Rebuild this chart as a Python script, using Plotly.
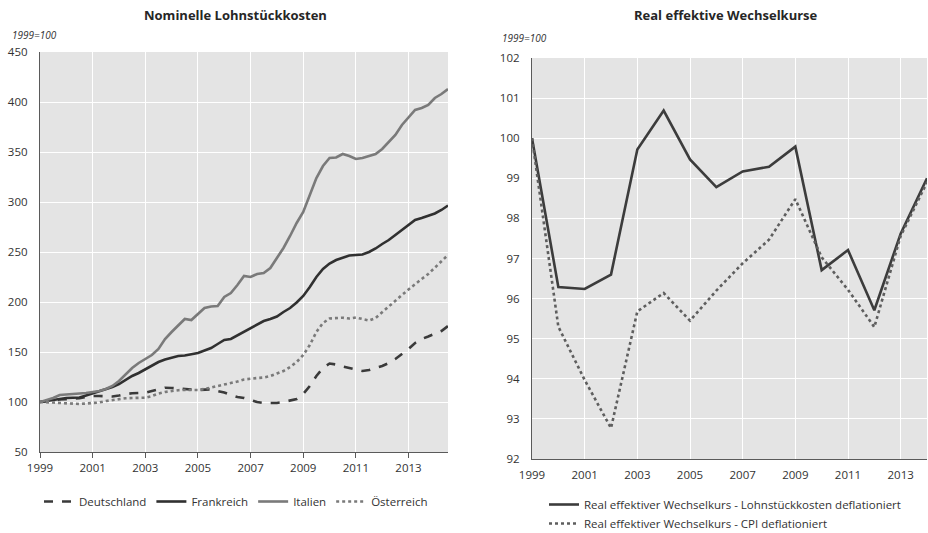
import plotly.graph_objects as go

# ---- Nominelle Lohnstückkosten (quarterly, 1999Q1 .. 2014Q3, 1999=100)
quarters = [1999 + i * 0.25 for i in range(63)]

deutschland = [100, 101, 102, 102.5, 102.8, 103, 103.7, 105, 106, 106, 106, 105.5,
               106.5, 108, 108.7, 109, 109.3, 111, 113, 114.3, 114, 113.7, 113, 112.5,
               112, 112.5, 112.7, 111, 109.5, 107, 105, 104, 102, 100, 99, 98.7,
               99, 100, 101.5, 103, 108, 116, 126, 134, 138.5, 137.5, 135.5, 134,
               132.5, 131, 132, 134, 136, 139, 143, 148, 153, 159, 163, 165.5,
               168, 171, 176]
frankreich = [100, 101, 102.5, 103.5, 104, 104.2, 104.5, 106.5, 108.5, 110.5, 112.5, 115,
              118, 122, 126, 129, 132.5, 136, 140, 142.5, 144.5, 146, 146.5, 147.5,
              149, 151.5, 154, 158, 162, 163, 166.5, 170, 173.5, 177, 181, 183,
              185.5, 190, 194, 199.5, 206, 215, 225, 233, 238.5, 242, 244.5, 246.5,
              247, 247.5, 250, 253.5, 258, 262, 267, 272, 277, 282, 284, 286,
              288.5, 292, 296.5]
italien = [100, 102, 104, 107, 107.5, 107.7, 108, 109, 110, 111, 113, 116,
           121, 128, 134, 139, 143, 147, 153, 163, 170, 176, 183, 182,
           188, 194, 195.5, 196, 205, 209, 217, 226, 225, 228, 229, 234,
           244, 254, 266, 279, 290, 307, 324, 336, 344, 344.5, 348, 346,
           343, 344, 346, 348, 353, 360, 367, 377, 384, 392, 394, 397,
           404, 408, 413]
oesterreich = [100, 100, 99.5, 99, 98.5, 98, 98, 98.5, 98.7, 99.5, 101, 102,
               103, 103.7, 104, 104.2, 104.3, 106, 108.5, 110, 111, 111.8, 112, 112,
               112, 113, 114.5, 116, 117, 118.5, 120.5, 122.5, 123.5, 124, 124.5, 126,
               128.5, 131, 135, 140, 147, 157, 170, 179, 183.5, 184, 184.3, 183.5,
               184.5, 183, 181.5, 184, 190, 196, 202, 207, 212.5, 218, 223, 228,
               234, 240, 247]

# ---- Real effektive Wechselkurse (annual, 1999=100)
years = list(range(1999, 2015))
reer_lsk = [100, 96.29, 96.24, 96.6, 99.72, 100.69, 99.47, 98.78, 99.17, 99.29,
            99.79, 96.71, 97.21, 95.71, 97.62, 99.0]
reer_cpi = [100, 95.3, 93.97, 92.77, 95.68, 96.14, 95.45, 96.2, 96.88, 97.47,
            98.48, 97.03, 96.22, 95.29, 97.56, 98.9]

tick_years = list(range(1999, 2014, 2))
tick_text = [str(y) for y in tick_years]

FONT = "Open Sans"
TXT = "#333333"
W, H = 928, 533

fig = go.Figure()

left_series = [
    ("Deutschland", deutschland, "#3a3a3a", "dash"),
    ("Frankreich", frankreich, "#303030", "solid"),
    ("Italien", italien, "#7a7a7a", "solid"),
    ("Österreich", oesterreich, "#7a7a7a", "dot"),
]
for name, vals, col, dash in left_series:
    fig.add_trace(go.Scatter(
        x=quarters, y=vals, name=name, mode="lines",
        line=dict(color=col, width=2.6, dash=dash),
        xaxis="x", yaxis="y", legend="legend",
    ))

right_series = [
    ("Real effektiver Wechselkurs - Lohnstückkosten deflationiert", reer_lsk, "#3c3c3c", "solid"),
    ("Real effektiver Wechselkurs - CPI deflationiert", reer_cpi, "#5e5e5e", "dot"),
]
for name, vals, col, dash in right_series:
    fig.add_trace(go.Scatter(
        x=years, y=vals, name=name, mode="lines",
        line=dict(color=col, width=2.6, dash=dash),
        xaxis="x2", yaxis="y2", legend="legend2",
    ))


def px_x(p):
    return p / W


def px_y(p):
    return 1 - p / H


axis_common = dict(
    showgrid=True, gridcolor="#ffffff", gridwidth=1.2,
    zeroline=False, showline=True, linecolor="#5a5a5a", linewidth=1.2,
    tickfont=dict(family=FONT, size=11.5, color=TXT),
    automargin=False,
)

fig.update_layout(
    width=W, height=H,
    margin=dict(l=0, r=0, t=0, b=0, autoexpand=False),
    paper_bgcolor="#ffffff",
    plot_bgcolor="#e4e4e4",
    font=dict(family=FONT, size=11.5, color=TXT),
    xaxis=dict(domain=[px_x(40), px_x(448)], range=[1999, 2014.5],
               tickvals=tick_years, ticktext=tick_text, anchor="y",
               ticks="outside", ticklen=5, tickcolor="#5a5a5a", **axis_common),
    yaxis=dict(domain=[px_y(452), px_y(52)], range=[50, 450], dtick=50,
               anchor="x", ticks="outside", ticklen=9, tickcolor="rgba(0,0,0,0)",
               **axis_common),
    xaxis2=dict(domain=[px_x(532), px_x(927)], range=[1999, 2014],
                tickvals=tick_years, ticktext=tick_text, anchor="y2",
                ticks="outside", ticklen=5, tickcolor="rgba(0,0,0,0)", **axis_common),
    yaxis2=dict(domain=[px_y(459), px_y(58)], range=[92, 102], dtick=1,
                anchor="x2", ticks="outside", ticklen=9, tickcolor="rgba(0,0,0,0)",
                **axis_common),
    legend=dict(orientation="h", x=px_x(236), y=px_y(487), xanchor="center",
                yanchor="top", font=dict(family=FONT, size=11.5, color=TXT),
                bgcolor="rgba(0,0,0,0)"),
    legend2=dict(orientation="v", x=px_x(544), y=px_y(490), xanchor="left",
                 yanchor="top", font=dict(family=FONT, size=11.5, color=TXT),
                 bgcolor="rgba(0,0,0,0)", tracegroupgap=0),
    annotations=[
        dict(text="<b>Nominelle Lohnstückkosten</b>", x=px_x(236), y=px_y(15),
             xanchor="center", yanchor="middle",
             xref="paper", yref="paper", showarrow=False,
             font=dict(family=FONT, size=13, color="#262626")),
        dict(text="<b>Real effektive Wechselkurse</b>", x=px_x(726), y=px_y(15),
             xanchor="center", yanchor="middle",
             xref="paper", yref="paper", showarrow=False,
             font=dict(family=FONT, size=13, color="#262626")),
        dict(text="<i>1999=100</i>", x=px_x(10), y=px_y(35), xanchor="left",
             yanchor="middle",
             xref="paper", yref="paper", showarrow=False,
             font=dict(family=FONT, size=10, color=TXT)),
        dict(text="<i>1999=100</i>", x=px_x(500), y=px_y(38), xanchor="left",
             yanchor="middle",
             xref="paper", yref="paper", showarrow=False,
             font=dict(family=FONT, size=10, color=TXT)),
    ],
)

fig.write_html("out.html")
